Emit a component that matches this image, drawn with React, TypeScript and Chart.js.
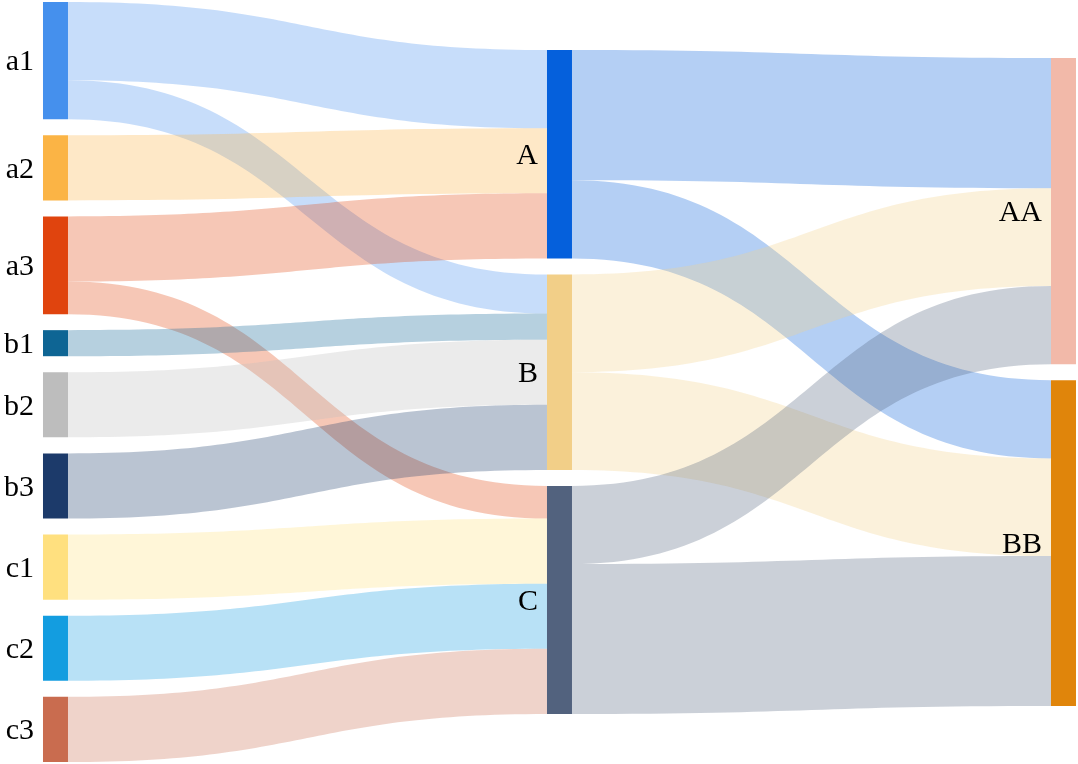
import React, { useEffect, useRef } from 'react';
import { Chart, registerables } from 'chart.js';

Chart.register(...registerables);

// ---- data ----
const nodeNames = ['a1', 'a2', 'a3', 'b1', 'b2', 'b3', 'c1', 'c2', 'c3', 'A', 'B', 'C', 'AA', 'BB'];
const nodeColumns = [0, 0, 0, 0, 0, 0, 0, 0, 0, 1, 1, 1, 2, 2];
const nodeColors = [
  '#4590ed', '#fbb445', '#e0440e', '#0e6594', '#bdbdbd', '#1c3a6a', '#ffe07f', '#139de0', '#c96c4f',
  '#0560dc', '#f2cf88', '#52627e',
  '#f2b9a9', '#e0850b',
];
const linkSources = ['a1', 'a1', 'a2', 'a3', 'a3', 'b1', 'b2', 'b3', 'c1', 'c2', 'c3', 'A', 'A', 'B', 'B', 'C', 'C'];
const linkTargets = ['A', 'B', 'A', 'A', 'C', 'B', 'B', 'B', 'C', 'C', 'C', 'AA', 'BB', 'AA', 'BB', 'AA', 'BB'];
const linkValues = [6, 3, 5, 5, 2.5, 2, 5, 5, 5, 5, 5, 10, 6, 7.5, 7.5, 6, 11.5];
const nodeGap = 1.23;

// ---- style ----
const NODE_W = 25;
const LINK_ALPHA = 0.3;
const LABEL_FONT = '30px "Liberation Serif"';
const LABEL_GAP = 9;

function hexToRgba(hex: string, a: number) {
  const h = hex.replace('#', '');
  const r = parseInt(h.slice(0, 2), 16);
  const g = parseInt(h.slice(2, 4), 16);
  const b = parseInt(h.slice(4, 6), 16);
  return `rgba(${r},${g},${b},${a})`;
}

function computeLayout() {
  const n = nodeNames.length;
  const idx = (name: string) => nodeNames.indexOf(name);
  const src = linkSources.map(idx);
  const tgt = linkTargets.map(idx);
  const inSum = new Array(n).fill(0);
  const outSum = new Array(n).fill(0);
  linkValues.forEach((v, i) => {
    outSum[src[i]] += v;
    inSum[tgt[i]] += v;
  });
  const value = inSum.map((v, i) => Math.max(v, outSum[i]));
  const nCols = Math.max(...nodeColumns) + 1;
  const cols: number[][] = [];
  for (let c = 0; c < nCols; c++) cols.push([]);
  nodeColumns.forEach((c, i) => cols[c].push(i));
  const colTotals = cols.map((list) => list.reduce((s, i) => s + value[i], 0) + (list.length - 1) * nodeGap);
  const maxTotal = Math.max(...colTotals);
  const y0 = new Array(n).fill(0);
  const y1 = new Array(n).fill(0);
  cols.forEach((list, c) => {
    let y = (maxTotal - colTotals[c]) / 2;
    list.forEach((i) => {
      y0[i] = y;
      y1[i] = y + value[i];
      y += value[i] + nodeGap;
    });
  });
  const ls0 = new Array(linkValues.length).fill(0);
  const lt0 = new Array(linkValues.length).fill(0);
  for (let i = 0; i < n; i++) {
    const outs = linkValues.map((_, k) => k).filter((k) => src[k] === i).sort((a, b) => y0[tgt[a]] - y0[tgt[b]]);
    let y = y0[i];
    outs.forEach((k) => { ls0[k] = y; y += linkValues[k]; });
    const ins = linkValues.map((_, k) => k).filter((k) => tgt[k] === i).sort((a, b) => y0[src[a]] - y0[src[b]]);
    y = y0[i];
    ins.forEach((k) => { lt0[k] = y; y += linkValues[k]; });
  }
  return { src, tgt, y0, y1, maxTotal, ls0, lt0 };
}

export default function App() {
  const canvasRef = useRef<HTMLCanvasElement | null>(null);

  useEffect(() => {
    document.body.style.margin = '0';
    const canvas = canvasRef.current;
    if (!canvas) return;
    const L = computeLayout();

    const linksPlugin = {
      id: 'sankeyLinks',
      beforeDatasetsDraw(chart: any) {
        const ctx = chart.ctx;
        const xs = chart.scales.x;
        const ys = chart.scales.y;
        ctx.save();
        linkValues.forEach((v, k) => {
          const s = L.src[k];
          const t = L.tgt[k];
          const x0 = xs.getPixelForValue(nodeColumns[s]) + NODE_W / 2;
          const x1 = xs.getPixelForValue(nodeColumns[t]) - NODE_W / 2;
          const xm = (x0 + x1) / 2;
          const sa = ys.getPixelForValue(L.ls0[k]);
          const sb = ys.getPixelForValue(L.ls0[k] + v);
          const ta = ys.getPixelForValue(L.lt0[k]);
          const tb = ys.getPixelForValue(L.lt0[k] + v);
          ctx.beginPath();
          ctx.moveTo(x0, sa);
          ctx.bezierCurveTo(xm, sa, xm, ta, x1, ta);
          ctx.lineTo(x1, tb);
          ctx.bezierCurveTo(xm, tb, xm, sb, x0, sb);
          ctx.closePath();
          ctx.fillStyle = hexToRgba(nodeColors[s], LINK_ALPHA);
          ctx.fill();
        });
        ctx.restore();
      },
      afterDatasetsDraw(chart: any) {
        const ctx = chart.ctx;
        const xs = chart.scales.x;
        const ys = chart.scales.y;
        ctx.save();
        ctx.font = LABEL_FONT;
        ctx.fillStyle = '#000';
        ctx.textAlign = 'right';
        ctx.textBaseline = 'middle';
        nodeNames.forEach((name, i) => {
          const x = xs.getPixelForValue(nodeColumns[i]) - NODE_W / 2 - LABEL_GAP;
          const y = ys.getPixelForValue((L.y0[i] + L.y1[i]) / 2);
          ctx.fillText(name, x, y + 2);
        });
        ctx.restore();
      },
    };

    const chart = new Chart(canvas, {
      type: 'bar',
      data: {
        datasets: [
          {
            data: nodeNames.map((_, i) => ({ x: nodeColumns[i], y: [L.y0[i], L.y1[i]] })) as any,
            backgroundColor: nodeColors,
            borderWidth: 0,
            barThickness: NODE_W,
            inflateAmount: 0,
          } as any,
        ],
      },
      options: {
        animation: false,
        responsive: false,
        layout: { padding: { top: 2, bottom: 2, left: 0, right: 0 } },
        plugins: { legend: { display: false }, tooltip: { enabled: false } },
        scales: {
          x: { type: 'linear', display: false, offset: false, bounds: 'ticks', min: -0.1101, max: 2.0288 },
          y: { type: 'linear', display: false, min: 0, max: L.maxTotal, reverse: true },
        },
      },
      plugins: [linksPlugin],
    });
    let alive = true;
    if ((document as any).fonts && (document as any).fonts.load) {
      (document as any).fonts.load(LABEL_FONT).then(() => {
        if (alive) chart.draw();
      }).catch(() => {});
    }
    return () => {
      alive = false;
      chart.destroy();
    };
  }, []);

  return (
    <div style={{ width: 1078, height: 764 }}>
      <canvas ref={canvasRef} width={1078} height={764} />
    </div>
  );
}
